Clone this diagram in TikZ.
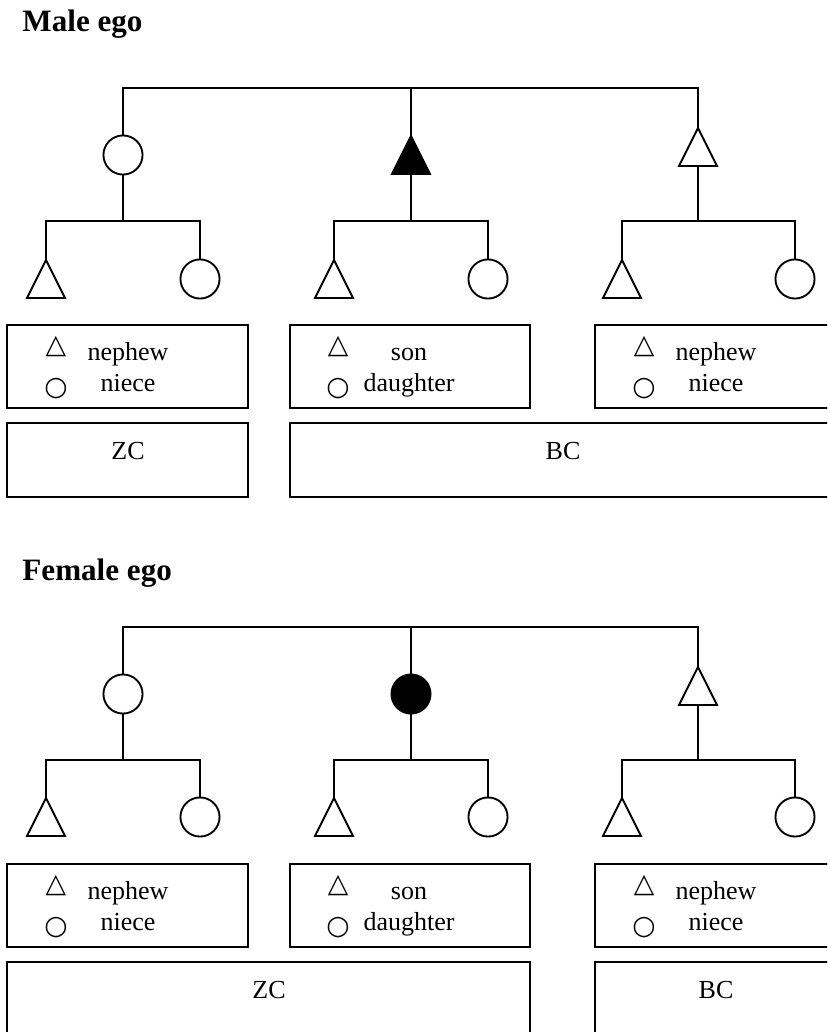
\documentclass[tikz,border=0pt]{standalone}
\usepackage{fontspec}
\setmainfont{Liberation Serif}
\newfontfamily\symfont{DejaVu Sans}
\usetikzlibrary{shapes.geometric}

\tikzset{
  kin/.style={draw, line width=0.85pt, inner sep=0pt, outer sep=0pt},
  male/.style={kin, isosceles triangle, isosceles triangle stretches,
    shape border rotate=90, minimum width=17.1pt, minimum height=17.1pt, anchor=apex},
  female/.style={kin, circle, minimum size=17.6pt},
  ego/.style={fill=black},
  kinline/.style={line width=0.85pt},
  labelbox/.style={line width=0.85pt},
  title/.style={font=\fontsize{14}{17}\selectfont\bfseries, anchor=base west, inner sep=0pt},
  word/.style={font=\fontsize{11.7}{14}\selectfont, anchor=base, inner sep=0pt},
  sym/.style={font=\symfont\fontsize{12}{14}\selectfont, inner sep=0pt},
}

\begin{document}
\begin{tikzpicture}[x=0.45pt, y=-0.45pt]
    \clip (0,0) rectangle (827,1032);

    % Male ego
    \node[title] (maletitle) at (22,32) {Male ego};

    % siblings
    \coordinate (mbar) at (411,88);
    \node[female] (msis) at (123,155) {};
    \node[male, ego] (mego) at (411,136) {};
    \node[male] (mbro) at (698,128) {};
    \draw[kinline] (msis.north) |- (mbar) -| (mbro.apex);
    \draw[kinline] (mbar) -- (mego.apex);

    % children
    \coordinate (mzc) at (123,221);
    \coordinate (mec) at (411,221);
    \coordinate (mbc) at (698,221);
    \node[male] (mzs) at (46,260) {};
    \node[female] (mzd) at (200,279) {};
    \node[male] (mes) at (334,260) {};
    \node[female] (med) at (488,279) {};
    \node[male] (mbs) at (622,260) {};
    \node[female] (mbd) at (795,279) {};
    \draw[kinline] (msis.south) -- (mzc);
    \draw[kinline] (mego.lower side) -- (mec);
    \draw[kinline] (mbro.lower side) -- (mbc);
    \draw[kinline] (mzs.apex) |- (mzc) -| (mzd.north);
    \draw[kinline] (mes.apex) |- (mec) -| (med.north);
    \draw[kinline] (mbs.apex) |- (mbc) -| (mbd.north);

    % terms
    \draw[labelbox] (7,325) rectangle (248,408);
    \draw[labelbox] (290,325) rectangle (530,408);
    \draw[labelbox] (595,325) rectangle (850,408);
    \node[sym] (mzsym1) at (56,347) {△};
    \node[sym] (mzsym2) at (56,389) {○};
    \node[word] (mzterm1) at (128,360) {nephew};
    \node[word] (mzterm2) at (128,391) {niece};
    \node[sym] (mesym1) at (338,347) {△};
    \node[sym] (mesym2) at (338,389) {○};
    \node[word] (meterm1) at (409,360) {son};
    \node[word] (meterm2) at (409,391) {daughter};
    \node[sym] (mbsym1) at (644,347) {△};
    \node[sym] (mbsym2) at (644,389) {○};
    \node[word] (mbterm1) at (716,360) {nephew};
    \node[word] (mbterm2) at (716,391) {niece};

    % classes
    \draw[labelbox] (7,423) rectangle (248,497);
    \draw[labelbox] (290,423) rectangle (850,497);
    \node[word] (mzclass) at (128,459) {ZC};
    \node[word] (mbclass) at (563,459) {BC};

    % Female ego
    \begin{scope}[shift={(0,539)}]
    \node[title] (femaletitle) at (22,41) {Female ego};

    % siblings
    \coordinate (fbar) at (411,88);
    \node[female] (fsis) at (123,155) {};
    \node[female, ego] (fego) at (411,155) {};
    \node[male] (fbro) at (698,128) {};
    \draw[kinline] (fsis.north) |- (fbar) -| (fbro.apex);
    \draw[kinline] (fbar) -- (fego.north);

    % children
    \coordinate (fzc) at (123,221);
    \coordinate (fec) at (411,221);
    \coordinate (fbc) at (698,221);
    \node[male] (fzs) at (46,259) {};
    \node[female] (fzd) at (200,278) {};
    \node[male] (fes) at (334,259) {};
    \node[female] (fed) at (488,278) {};
    \node[male] (fbs) at (622,259) {};
    \node[female] (fbd) at (795,278) {};
    \draw[kinline] (fsis.south) -- (fzc);
    \draw[kinline] (fego.south) -- (fec);
    \draw[kinline] (fbro.lower side) -- (fbc);
    \draw[kinline] (fzs.apex) |- (fzc) -| (fzd.north);
    \draw[kinline] (fes.apex) |- (fec) -| (fed.north);
    \draw[kinline] (fbs.apex) |- (fbc) -| (fbd.north);

    % terms
    \draw[labelbox] (7,325) rectangle (248,408);
    \draw[labelbox] (290,325) rectangle (530,408);
    \draw[labelbox] (595,325) rectangle (850,408);
    \node[sym] (fzsym1) at (56,347) {△};
    \node[sym] (fzsym2) at (56,389) {○};
    \node[word] (fzterm1) at (128,360) {nephew};
    \node[word] (fzterm2) at (128,391) {niece};
    \node[sym] (fesym1) at (338,347) {△};
    \node[sym] (fesym2) at (338,389) {○};
    \node[word] (feterm1) at (409,360) {son};
    \node[word] (feterm2) at (409,391) {daughter};
    \node[sym] (fbsym1) at (644,347) {△};
    \node[sym] (fbsym2) at (644,389) {○};
    \node[word] (fbterm1) at (716,360) {nephew};
    \node[word] (fbterm2) at (716,391) {niece};

    % classes
    \draw[labelbox] (7,423) rectangle (530,510);
    \draw[labelbox] (595,423) rectangle (850,510);
    \node[word] (fzclass) at (269,459) {ZC};
    \node[word] (fbclass) at (716,459) {BC};
    \end{scope}
\end{tikzpicture}
\end{document}
